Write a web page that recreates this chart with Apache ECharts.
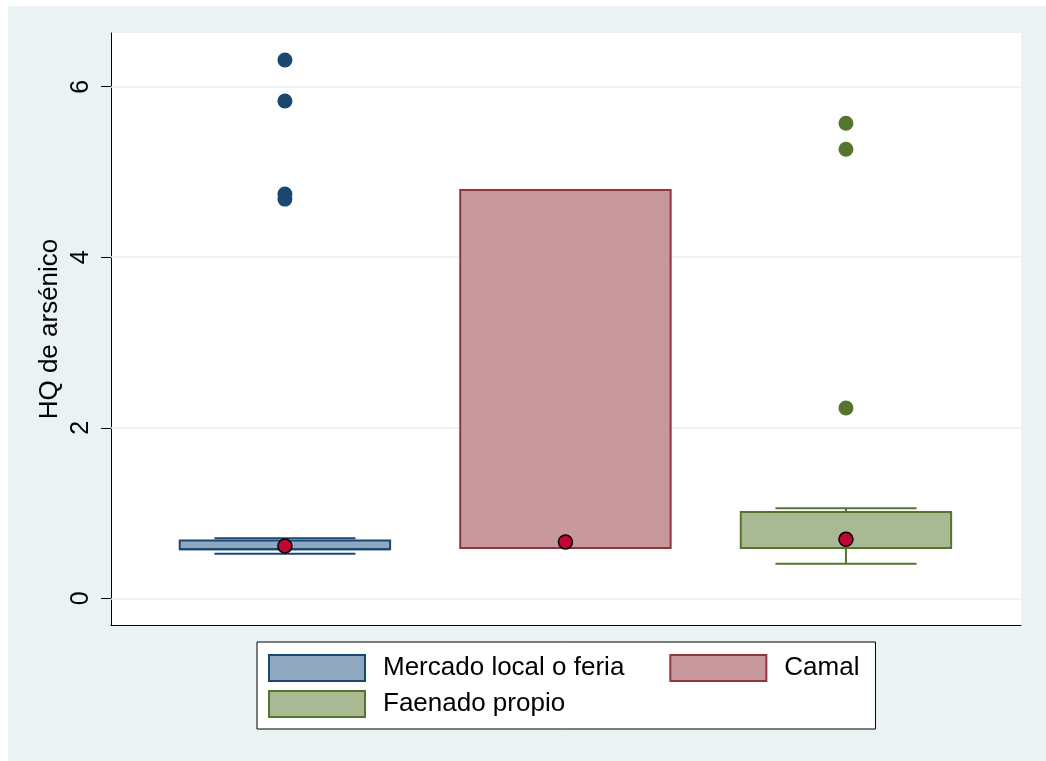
<!DOCTYPE html>
<html>
<head>
<meta charset="utf-8">
<script src="https://cdn.jsdelivr.net/npm/echarts@6/dist/echarts.min.js"></script>
<style>
  html, body { margin: 0; padding: 0; background: #fff; }
  #wrap { position: relative; width: 1046px; height: 761px; }
  #frame { position: absolute; left: 8px; top: 6px; right: 0; bottom: 0; background: #eaf2f3; }
  #chart { position: absolute; left: 0; top: 0; width: 1046px; height: 761px; }
</style>
</head>
<body>
<div id="wrap">
  <div id="frame"></div>
  <div id="chart"></div>
</div>
<script>
// groups, left to right
const categories = ['Mercado local o feria', 'Camal', 'Faenado propio'];

// [lower whisker, Q1, median, Q3, upper whisker]
const mercadoBox = [0.523, 0.575, 0.575, 0.678, 0.704];
const camalBox = [0.590, 0.590, 0.590, 4.788, 4.788];
const faenadoBox = [0.406, 0.590, 0.590, 1.012, 1.055];

// outside values
const mercadoOutliers = [6.313, 5.832, 4.741, 4.682];
const faenadoOutliers = [5.571, 5.266, 2.232];

// red markers over each box
const means = [0.613, 0.660, 0.692];

const yTicks = [0, 2, 4, 6];

const FONT = "'Liberation Sans', Arial, sans-serif";
const BOX_W = 0.75;
const CAP_W = 0.503;

const colors = [
    { fill: '#90a8bf', line: '#1a476f' },
    { fill: '#c8999c', line: '#90353b' },
    { fill: '#a9b994', line: '#55752f' }
];

function makeBox(fill, stroke) {
    return function (params, api) {
        const x = api.value(0);
        const lo = api.coord([x, api.value(1)]);
        const q1 = api.coord([x, api.value(2)]);
        const md = api.coord([x, api.value(3)]);
        const q3 = api.coord([x, api.value(4)]);
        const hi = api.coord([x, api.value(5)]);
        const bw = api.size([BOX_W, 0])[0];
        const cw = api.size([CAP_W, 0])[0];
        const cx = q1[0];
        const lineStyle = { stroke: stroke, lineWidth: 2, fill: null };
        return {
            type: 'group',
            children: [
                { type: 'line', shape: { x1: cx, y1: q3[1], x2: cx, y2: hi[1] }, style: lineStyle },
                { type: 'line', shape: { x1: cx, y1: q1[1], x2: cx, y2: lo[1] }, style: lineStyle },
                { type: 'line', shape: { x1: cx - cw / 2, y1: hi[1], x2: cx + cw / 2, y2: hi[1] }, style: lineStyle },
                { type: 'line', shape: { x1: cx - cw / 2, y1: lo[1], x2: cx + cw / 2, y2: lo[1] }, style: lineStyle },
                {
                    type: 'rect',
                    shape: { x: cx - bw / 2, y: q3[1], width: bw, height: q1[1] - q3[1] },
                    style: { fill: fill, stroke: stroke, lineWidth: 2 }
                },
                { type: 'line', shape: { x1: cx - bw / 2, y1: md[1], x2: cx + bw / 2, y2: md[1] }, style: lineStyle }
            ]
        };
    };
}

const boxes = [mercadoBox, camalBox, faenadoBox];

const boxSeries = categories.map((name, i) => ({
    name: name,
    type: 'custom',
    z: 2,
    renderItem: makeBox(colors[i].fill, colors[i].line),
    itemStyle: { color: colors[i].fill, borderColor: colors[i].line, borderWidth: 2 },
    encode: { x: 0, y: [1, 2, 3, 4, 5] },
    data: [[i].concat(boxes[i])]
}));

const legendText = { fontFamily: FONT, fontSize: 26, color: '#000', padding: [0, 0, 0, 13] };

const chart = echarts.init(document.getElementById('chart'), null, { renderer: 'canvas' });

const option = {
    backgroundColor: 'transparent',
    animation: false,
    grid: {
        left: 111, right: 25, top: 33, bottom: 136,
        show: true, backgroundColor: '#fff', borderWidth: 0
    },
    xAxis: {
        type: 'value',
        min: -0.62,
        max: 2.624,
        axisLine: { show: true, onZero: false, lineStyle: { color: '#000', width: 1 } },
        axisTick: { show: false },
        axisLabel: { show: false },
        splitLine: { show: false }
    },
    yAxis: {
        type: 'value',
        min: -0.313,
        max: 6.63,
        name: 'HQ de arsénico',
        nameLocation: 'middle',
        nameRotate: 90,
        nameGap: 48,
        nameMoveOverlap: false,
        nameTextStyle: { fontFamily: FONT, fontSize: 26, color: '#000' },
        axisLine: { show: true, onZero: false, lineStyle: { color: '#000', width: 1 } },
        axisTick: { show: true, length: 10, customValues: yTicks, lineStyle: { color: '#000' } },
        axisLabel: {
            customValues: yTicks, rotate: 90, margin: 17,
            fontFamily: FONT, fontSize: 25, color: '#000'
        },
        splitLine: { show: false }
    },
    legend: [
        {
            data: [
                { name: categories[0], itemStyle: { color: colors[0].fill, borderColor: colors[0].line, borderWidth: 2 } },
                { name: categories[1], itemStyle: { color: colors[1].fill, borderColor: colors[1].line, borderWidth: 2 } }
            ],
            left: 257, top: 642,
            orient: 'horizontal',
            icon: 'rect',
            itemWidth: 96, itemHeight: 26, itemGap: 45,
            padding: [12, 16, 47, 11],
            backgroundColor: '#fff', borderColor: '#000', borderWidth: 1,
            selectedMode: false,
            textStyle: legendText
        },
        {
            data: [
                { name: categories[2], itemStyle: { color: colors[2].fill, borderColor: colors[2].line, borderWidth: 2 } }
            ],
            left: 268, top: 690,
            orient: 'horizontal',
            icon: 'rect',
            itemWidth: 96, itemHeight: 26,
            padding: 0,
            selectedMode: false,
            textStyle: legendText
        }
    ],
    series: [
        {
            // light grid lines behind the boxes
            name: 'grid',
            type: 'scatter',
            z: 1,
            silent: true,
            data: [],
            markLine: {
                z: 1,
                silent: true,
                symbol: 'none',
                label: { show: false },
                lineStyle: { color: '#e6eff1', width: 1.5, type: 'solid' },
                data: yTicks.map(v => ({ yAxis: v }))
            }
        },
        ...boxSeries,
        {
            name: 'outliers1',
            type: 'scatter',
            z: 3,
            symbolSize: 15,
            itemStyle: { color: colors[0].line, opacity: 1 },
            data: mercadoOutliers.map(v => [0, v])
        },
        {
            name: 'outliers3',
            type: 'scatter',
            z: 3,
            symbolSize: 15,
            itemStyle: { color: colors[2].line, opacity: 1 },
            data: faenadoOutliers.map(v => [2, v])
        },
        {
            name: 'means',
            type: 'scatter',
            z: 5,
            symbolSize: 14,
            itemStyle: { color: '#c10534', borderColor: '#000', borderWidth: 1.5, opacity: 1 },
            data: means.map((v, i) => [i, v])
        }
    ]
};

chart.setOption(option);
</script>
</body>
</html>
